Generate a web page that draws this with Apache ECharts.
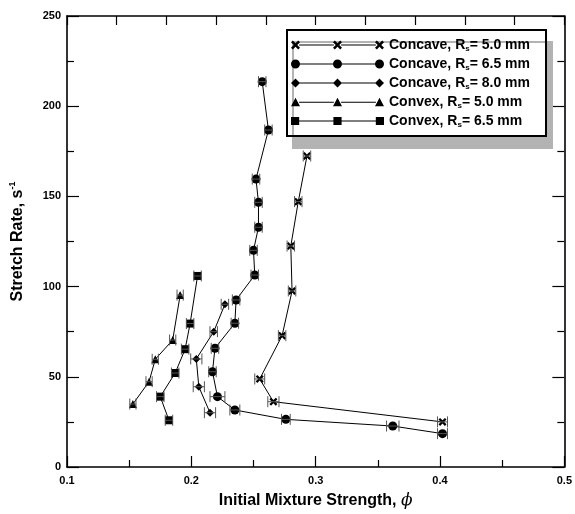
<!DOCTYPE html>
<html>
<head>
<meta charset="utf-8">
<script src="https://cdn.jsdelivr.net/npm/echarts@6/dist/echarts.min.js"></script>
<style>
  html, body { margin: 0; padding: 0; background: #fff; }
  #chart { width: 575px; height: 514px; }
</style>
</head>
<body>
<div id="chart"></div>
<script>
// Series values: [phi, stretch rate]
const concave50 = [[0.293, 172.4], [0.286, 147.1], [0.280, 122.5], [0.281, 97.6], [0.273, 72.8], [0.255, 48.8], [0.266, 36.2], [0.402, 25.0]]
const concave65 = [[0.257, 213.6], [0.262, 186.8], [0.252, 159.6], [0.254, 146.7], [0.254, 132.9], [0.250, 120.1], [0.251, 106.4], [0.236, 92.6],
  [0.235, 79.7], [0.219, 65.8], [0.217, 52.8], [0.221, 39.0], [0.235, 31.6], [0.276, 26.4], [0.362, 22.7], [0.402, 18.5]]
const concave80 = [[0.227, 90.2], [0.218, 75.0], [0.204, 59.9], [0.206, 44.5], [0.215, 30.1]]
const convex50 = [[0.191, 95.3], [0.185, 70.4], [0.171, 59.7], [0.166, 47.3], [0.153, 34.9]]
const convex65 = [[0.205, 105.9], [0.199, 79.5], [0.195, 65.3], [0.187, 52.1], [0.175, 39.0], [0.182, 25.9]]

// half widths of the horizontal error bars (phi units)
const concave50Err = [0.003, 0.003, 0.003, 0.003, 0.003, 0.004, 0.0045, 0.004]
const concave65Err = [0.003, 0.003, 0.003, 0.003, 0.003, 0.003, 0.003, 0.003, 0.003, 0.003, 0.003, 0.006, 0.004, 0.0035, 0.005, 0.004]
const concave80Err = [0.003, 0.003, 0.0045, 0.0045, 0.0045]
const convex50Err = [0.0025, 0.0025, 0.0025, 0.0025, 0.0025]
const convex65Err = [0.003, 0.003, 0.003, 0.003, 0.003, 0.003]

const seriesNames = ['Concave, Rs= 5.0 mm', 'Concave, Rs= 6.5 mm', 'Concave, Rs= 8.0 mm', 'Convex, Rs= 5.0 mm', 'Convex, Rs= 6.5 mm']
const seriesData = [concave50, concave65, concave80, convex50, convex65]
const seriesErr = [concave50Err, concave65Err, concave80Err, convex50Err, convex65Err]
const markerTypes = ['cross', 'circle', 'diamond', 'triangle', 'square']

const xTicks = [0.1, 0.5, 0.1]   // min, max, interval
const yTicks = [0, 250, 50]

// marker outline as path text, centred on (cx, cy) with half size r
function markerPath(type, cx, cy, r) {
  const p = pts => 'M' + pts.map(q => (cx + q[0] * r).toFixed(2) + ',' + (cy + q[1] * r).toFixed(2)).join(' L') + ' Z '
  if (type === 'cross') {
    const t = 0.4
    return p([[-1, -1 + t], [-1 + t, -1], [0, -t], [1 - t, -1], [1, -1 + t], [t, 0], [1, 1 - t], [1 - t, 1], [0, t], [-1 + t, 1], [-1, 1 - t], [-t, 0]])
  }
  if (type === 'circle') {
    return `M${cx - r},${cy} A${r},${r} 0 1,1 ${cx + r},${cy} A${r},${r} 0 1,1 ${cx - r},${cy} Z `
  }
  if (type === 'diamond') return p([[0, -1], [1, 0], [0, 1], [-1, 0]])
  if (type === 'triangle') return p([[0, -1], [1, 0.9], [-1, 0.9]])
  return p([[-0.9, -0.9], [0.9, -0.9], [0.9, 0.9], [-0.9, 0.9]])
}

const symbolFor = t => 'path://' + markerPath(t, 5, 5, 5)

// legend sample: three markers joined by a thin line
function legendIcon(type) {
  const r = 4.5, w = 93
  const cs = [r, w / 2, w - r]
  let d = ''
  for (let i = 0; i < 2; i++) {
    const a = cs[i] + r * 0.8, b = cs[i + 1] - r * 0.8
    d += `M${a},${r - 0.5} L${b},${r - 0.5} L${b},${r + 0.5} L${a},${r + 0.5} Z `
  }
  cs.forEach(c => { d += markerPath(type, c, r, r) })
  return 'path://' + d
}

const labelFont = 'Liberation Sans, Arial, sans-serif'

const series = []
seriesNames.forEach((name, i) => {
  series.push({
    name: name,
    type: 'line',
    data: seriesData[i],
    symbol: symbolFor(markerTypes[i]),
    symbolSize: markerTypes[i] === 'circle' ? 9 : 8,
    itemStyle: { color: '#000' },
    lineStyle: { color: '#000', width: 1 },
    z: 3,
    animation: false
  })
  series.push({
    name: name + ' err',
    type: 'custom',
    data: seriesData[i].map((p, k) => [p[0], p[1], seriesErr[i][k]]),
    encode: { x: 0, y: 1 },
    z: 4,
    silent: true,
    animation: false,
    renderItem: (params, api) => {
      const x = api.value(0), y = api.value(1), e = api.value(2)
      const a = api.coord([x - e, y])
      const b = api.coord([x + e, y])
      const h = 5.5
      const style = { stroke: '#555', lineWidth: 1 }
      return {
        type: 'group',
        children: [
          { type: 'line', shape: { x1: a[0], y1: a[1], x2: b[0], y2: b[1] }, style },
          { type: 'line', shape: { x1: a[0], y1: a[1] - h, x2: a[0], y2: a[1] + h }, style },
          { type: 'line', shape: { x1: b[0], y1: b[1] - h, x2: b[0], y2: b[1] + h }, style }
        ]
      }
    }
  })
})

const axisLine = { show: true, onZero: false, lineStyle: { color: '#000', width: 1.6 } }

const chart = echarts.init(document.getElementById('chart'))
chart.setOption({
  animation: false,
  backgroundColor: '#fff',
  grid: { left: 65, right: 10, top: 16, bottom: 47 },
  xAxis: [
    {
      type: 'value',
      position: 'bottom',
      min: xTicks[0], max: xTicks[1], interval: xTicks[2],
      axisLine: axisLine,
      axisTick: { inside: true, length: 11, lineStyle: { color: '#000', width: 1.2 } },
      minorTick: { show: true, splitNumber: 2, length: 7, lineStyle: { color: '#000', width: 1.2 } },
      splitLine: { show: false },
      axisLabel: { color: '#000', fontWeight: 'bold', fontSize: 11, fontFamily: labelFont, margin: 8, formatter: v => v.toFixed(1) },
      name: '{n|Initial Mixture Strength, }{phi|ϕ}',
      nameLocation: 'middle',
      nameGap: 25,
      nameTextStyle: {
        rich: {
          n: { fontSize: 16, fontWeight: 'bold', fontFamily: labelFont, color: '#000' },
          phi: { fontSize: 17, fontStyle: 'italic', fontFamily: 'DejaVu Serif, serif', color: '#000' }
        }
      }
    },
    {
      type: 'value',
      position: 'top',
      min: 0, max: 10, interval: 1,
      axisLine: axisLine,
      axisTick: { inside: true, length: 9, lineStyle: { color: '#000', width: 1.2 } },
      axisLabel: { show: false },
      splitLine: { show: false }
    }
  ],
  yAxis: [
    {
      type: 'value',
      position: 'left',
      min: yTicks[0], max: yTicks[1], interval: yTicks[2],
      axisLine: axisLine,
      axisTick: { inside: true, length: 12, lineStyle: { color: '#000', width: 1.2 } },
      minorTick: { show: true, splitNumber: 2, length: 7, lineStyle: { color: '#000', width: 1.2 } },
      splitLine: { show: false },
      axisLabel: { color: '#000', fontWeight: 'bold', fontSize: 11, fontFamily: labelFont, margin: 6 },
      name: '{n|Stretch Rate, s}{sup|-1}',
      nameLocation: 'middle',
      nameGap: 39,
      nameTextStyle: {
        rich: {
          n: { fontSize: 16, fontWeight: 'bold', fontFamily: labelFont, color: '#000' },
          sup: { fontSize: 9, fontWeight: 'bold', fontFamily: labelFont, color: '#000', verticalAlign: 'top', lineHeight: 20 }
        }
      }
    },
    {
      type: 'value',
      position: 'right',
      min: yTicks[0], max: yTicks[1], interval: yTicks[2],
      axisLine: axisLine,
      axisTick: { inside: true, length: 12, lineStyle: { color: '#000', width: 1.2 } },
      minorTick: { show: true, splitNumber: 2, length: 7, lineStyle: { color: '#000', width: 1.2 } },
      axisLabel: { show: false },
      splitLine: { show: false }
    }
  ],
  legend: {
    orient: 'vertical',
    left: 287,
    top: 30,
    padding: [8, 16, 7, 4],
    itemGap: 4,
    itemWidth: 93,
    itemHeight: 9,
    selectedMode: false,
    backgroundColor: '#fff',
    borderColor: '#000',
    borderWidth: 2,
    borderRadius: 0,
    shadowColor: '#b3b3b3',
    shadowBlur: 0,
    shadowOffsetX: 6,
    shadowOffsetY: 12,
    data: seriesNames.map((n, i) => ({ name: n, icon: legendIcon(markerTypes[i]) })),
    formatter: name => {
      const parts = name.split('Rs')
      return `{n|${parts[0]}R}{s|s}{n|${parts[1]}}`
    },
    textStyle: {
      rich: {
        n: { fontSize: 14, fontWeight: 'bold', fontFamily: labelFont, color: '#000', lineHeight: 16 },
        s: { fontSize: 8, fontWeight: 'bold', fontFamily: labelFont, color: '#000', verticalAlign: 'bottom', lineHeight: 13 }
      }
    }
  },
  series: series
})
</script>
</body>
</html>
